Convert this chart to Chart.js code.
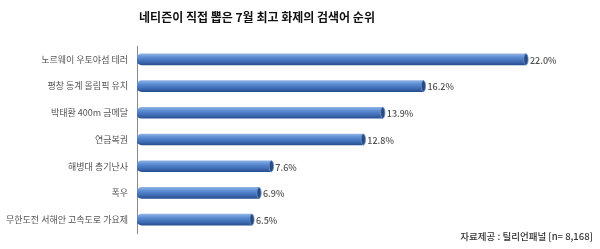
<!DOCTYPE html>
<html>
<head>
<meta charset="utf-8">
<script src="https://cdn.jsdelivr.net/npm/chart.js@4"></script>
<style>
  html, body { margin: 0; padding: 0; background: #fff; }
  #wrap { width: 600px; height: 249px; position: relative; }
</style>
</head>
<body>
<div id="wrap"><canvas id="chart"></canvas></div>
<script>
const chartTitle = '네티즌이 직접 뽑은 7월 최고 화제의 검색어 순위';
const sourceNote = '자료제공 : 틸리언패널 [n= 8,168]';
const categories = [
  '노르웨이 우토야섬 테러',
  '평창 동계 올림픽 유치',
  '박태환 400m 금메달',
  '연금복권',
  '해병대 총기난사',
  '폭우',
  '무한도전 서해안 고속도로 가요제'
];
const shares = [22.0, 16.2, 13.9, 12.8, 7.6, 6.9, 6.5];

const FONT = '"Noto Sans CJK KR", "Noto Sans", sans-serif';

// 3D cylinder look: vertical gradient per bar
function barGradient(c) {
  const chart = c.chart;
  const yScale = chart.scales.y;
  if (!chart.chartArea || !yScale) return '#4a7cc4';
  const y = yScale.getPixelForValue(c.dataIndex);
  const g = chart.ctx.createLinearGradient(0, y - 5.5, 0, y + 5.5);
  g.addColorStop(0, '#8fb2e4');
  g.addColorStop(0.3, '#5d8ed3');
  g.addColorStop(0.75, '#3c68b0');
  g.addColorStop(1, '#28508f');
  return g;
}

const capsAndLabels = {
  id: 'capsAndLabels',
  afterDatasetsDraw(chart) {
    const ctx = chart.ctx;
    const meta = chart.getDatasetMeta(0);
    ctx.save();
    meta.data.forEach((bar, i) => {
      const h = bar.height;
      // right end cap
      ctx.beginPath();
      ctx.ellipse(bar.x, bar.y, 2.2, h / 2, 0, 0, Math.PI * 2);
      ctx.fillStyle = '#2a4b82';
      ctx.fill();
      ctx.lineWidth = 0.8;
      ctx.strokeStyle = '#6f95cf';
      ctx.stroke();
      // value label
      ctx.font = '500 9px ' + FONT;
      ctx.fillStyle = '#4f4f4f';
      ctx.textAlign = 'left';
      ctx.textBaseline = 'middle';
      ctx.fillText(shares[i].toFixed(1) + '%', bar.x + 4, bar.y + 1);
    });
    ctx.restore();
  },
  afterDraw(chart) {
    const ctx = chart.ctx;
    ctx.save();
    ctx.font = 'bold 12px ' + FONT;
    ctx.fillStyle = '#111';
    ctx.textAlign = 'center';
    ctx.textBaseline = 'middle';
    ctx.fillText(chartTitle, 257, 17);
    ctx.font = '500 9.5px ' + FONT;
    ctx.fillStyle = '#333';
    ctx.textAlign = 'right';
    ctx.fillText(sourceNote, 593, 236);
    ctx.restore();
  }
};

new Chart(document.getElementById('chart').getContext('2d'), {
  type: 'bar',
  data: {
    labels: categories,
    datasets: [{
      data: shares,
      backgroundColor: barGradient,
      borderWidth: 0,
      borderSkipped: false,
      borderRadius: { topLeft: 5, bottomLeft: 5, topRight: 0, bottomRight: 0 },
      barThickness: 11
    }]
  },
  options: {
    indexAxis: 'y',
    animation: false,
    responsive: true,
    maintainAspectRatio: false,
    layout: { padding: { top: 46, bottom: 16, left: 0, right: 21 } },
    plugins: {
      legend: { display: false },
      tooltip: { enabled: false }
    },
    scales: {
      x: {
        display: false,
        min: 0,
        max: 25
      },
      y: {
        afterFit: (scale) => { scale.width = 137; },
        grid: { display: false, drawTicks: false },
        border: { display: true, color: '#8a8a8a', width: 1 },
        ticks: {
          padding: 9,
          color: '#555',
          font: { family: FONT, size: 9 }
        }
      }
    }
  },
  plugins: [capsAndLabels]
});
</script>
</body>
</html>
